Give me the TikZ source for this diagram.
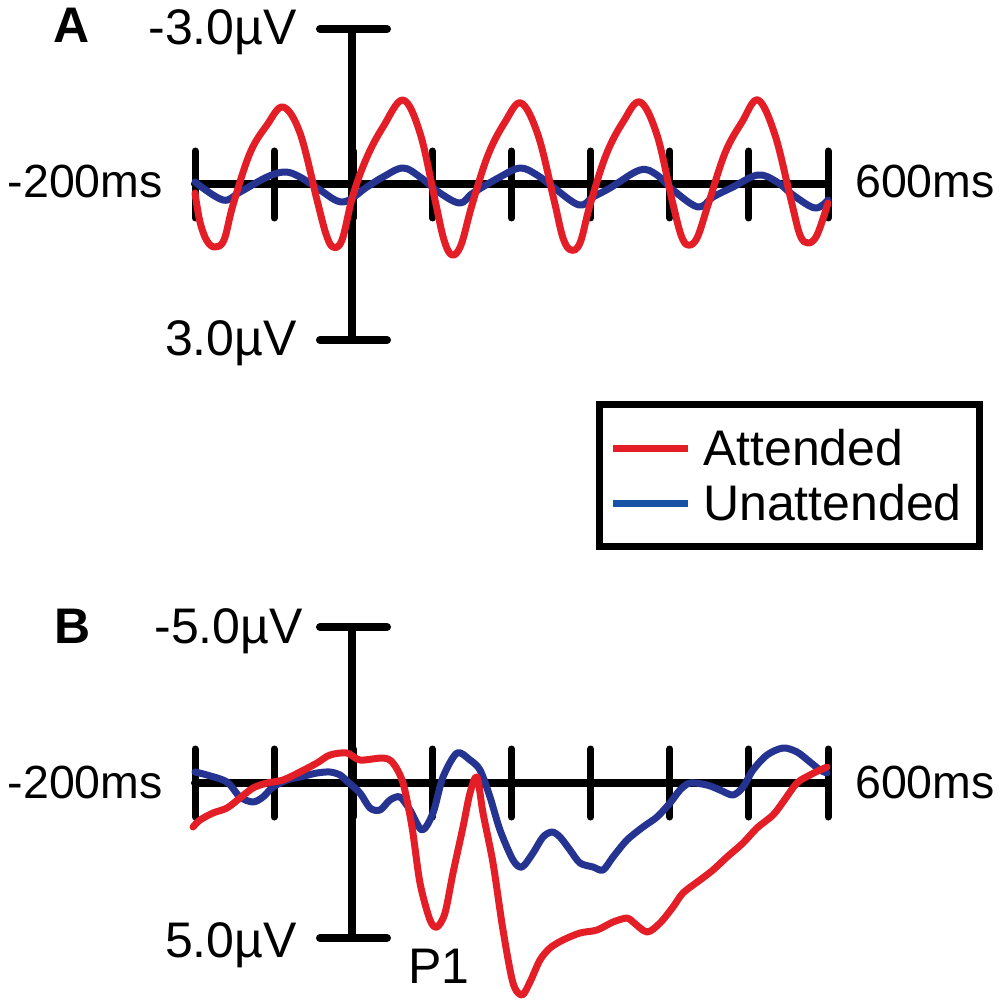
\documentclass[tikz,border=0pt]{standalone}
\usepackage{fontspec}
\setmainfont{Liberation Sans}
\definecolor{attred}{RGB}{228,30,38}
\definecolor{unblue}{RGB}{38,52,145}
\definecolor{keyblue}{RGB}{22,82,165}

\begin{document}
\begin{tikzpicture}[x=1pt, y=-1pt,
        every node/.style = {inner sep=0pt, font=\fontsize{50}{60}\selectfont},
        panel/.style = {font=\fontsize{50}{60}\selectfont\bfseries, anchor=base},
        timelabel/.style = {font=\fontsize{46.5}{56}\selectfont},
        axisline/.style = {line width=8pt, line cap=round},
        tickline/.style = {line width=7pt, line cap=round},
        erp/.style = {line width=7pt, line join=round, line cap=round},
        att/.style = {erp, draw=attred},
        unatt/.style = {erp, draw=unblue}]
    \useasboundingbox (0,0) rectangle (1003,1000);

    % panel A
    \node[panel] (panA) at (72,43) {A};
    \coordinate (topA) at (352,29);
    \coordinate (botA) at (352,340);
    \coordinate (startA) at (195,184);
    \coordinate (endA) at (828,184);
    \draw[axisline] (topA) -- (botA);
    \draw[axisline] ([xshift=-32pt]topA) -- ([xshift=35pt]topA);
    \draw[axisline] ([xshift=-32pt]botA) -- ([xshift=35pt]botA);
    \draw[axisline] (startA) -- (endA);
    \foreach \k in {0,...,8}
        \draw[tickline] ({195+79.125*\k},151) -- ({195+79.125*\k},218);
    \node[anchor=base east] (negA) at (297,45) {-3.0µV};
    \node[anchor=base east] (posA) at (297,355) {3.0µV};
    \node[timelabel, anchor=base east] (preA) at (163,198) {-200ms};
    \node[timelabel, anchor=base west] (postA) at (855,198) {600ms};
    \draw[unatt] plot[smooth, tension=0.6] coordinates {(195,182) (223,200) (240,192) (267,177)
        (285,172) (300,177) (320,190) (343,202) (367,187) (383,177) (403,168) (420,177)
        (440,193) (460,203) (473,193) (500,177) (520,168) (537,175) (553,187) (579,205)
        (593,197) (610,188) (640,170) (657,175) (673,190) (698,207) (713,197) (733,187)
        (758,175) (777,182) (793,195) (815,208) (828,200)};
    \draw[att] plot[smooth, tension=0.6] coordinates {(195,193) (200,222) (207,241) (215,247)
        (224,240) (233,205) (250,153) (267,125) (283,107) (300,133) (317,200) (326,234)
        (333,247) (342,240) (353,195) (367,157) (383,127) (403,100) (420,133) (435,200)
        (444,240) (452,255) (461,245) (472,205) (488,155) (505,122) (521,103) (538,135)
        (554,200) (563,238) (571,250) (580,243) (590,205) (606,155) (623,122) (640,102)
        (657,135) (672,200) (681,235) (688,245) (697,238) (708,205) (725,153) (742,122)
        (758,100) (775,135) (791,200) (800,235) (808,243) (817,235) (828,203)};

    % key
    \draw[line width=7pt] (599,404) rectangle (979,546);
    \coordinate (keyR) at (613,448);
    \coordinate (keyB) at (613,503);
    \draw[line width=7pt, attred] (keyR) -- ++(75,0);
    \draw[line width=7pt, keyblue] (keyB) -- ++(75,0);
    \node[anchor=base west] (attkey) at (703,465) {Attended};
    \node[anchor=base west] (unattkey) at (703,520) {Unattended};

    % panel B
    \node[panel] (panB) at (73,643) {B};
    \coordinate (topB) at (352,627);
    \coordinate (botB) at (352,938);
    \coordinate (startB) at (195,783);
    \coordinate (endB) at (828,783);
    \draw[axisline] (topB) -- (botB);
    \draw[axisline] ([xshift=-32pt]topB) -- ([xshift=35pt]topB);
    \draw[axisline] ([xshift=-32pt]botB) -- ([xshift=35pt]botB);
    \draw[axisline] (startB) -- (endB);
    \foreach \k in {0,...,8}
        \draw[tickline] ({195+79.125*\k},749) -- ({195+79.125*\k},817);
    \node[anchor=base east] (negB) at (303,643) {-5.0µV};
    \node[anchor=base east] (posB) at (297,957) {5.0µV};
    \node[timelabel, anchor=base east] (preB) at (163,798) {-200ms};
    \node[timelabel, anchor=base west] (postB) at (855,798) {600ms};
    \node[anchor=base west] (pone) at (408,983) {P1};
    \draw[unatt] plot[smooth, tension=0.5] coordinates {(195,772) (207,775) (227,782) (240,797)
        (253,802) (263,797) (273,787) (287,780) (300,777) (317,773) (330,772) (340,775)
        (348,782) (360,793) (370,808) (380,810) (390,800) (400,797) (410,810) (422,830)
        (433,813) (443,777) (457,753) (470,760) (480,770) (490,797) (500,830) (513,860)
        (522,867) (533,853) (543,837) (552,832) (560,837) (570,850) (580,863) (593,867)
        (603,870) (613,857) (627,840) (643,827) (657,817) (670,803) (680,790) (690,783)
        (707,785) (720,790) (733,795) (743,787) (753,770) (767,755) (783,748) (797,752)
        (810,762) (820,770) (827,773)};
    \draw[att] plot[smooth, tension=0.5] coordinates {(193,827) (200,820) (213,813) (227,808)
        (240,798) (253,788) (267,783) (283,780) (300,772) (317,763) (330,755) (347,753)
        (360,760) (383,758) (393,763) (403,783) (412,827) (420,883) (430,920) (437,927)
        (445,913) (453,873) (463,827) (470,793) (477,777) (483,813) (493,863) (503,930)
        (513,983) (522,995) (530,982) (540,960) (550,948) (563,940) (580,933) (597,930)
        (613,922) (627,918) (633,922) (647,932) (660,923) (673,907) (683,893) (700,880)
        (713,870) (727,857) (743,843) (757,828) (773,815) (783,802) (797,783) (810,775)
        (820,770) (827,767)};
\end{tikzpicture}
\end{document}
